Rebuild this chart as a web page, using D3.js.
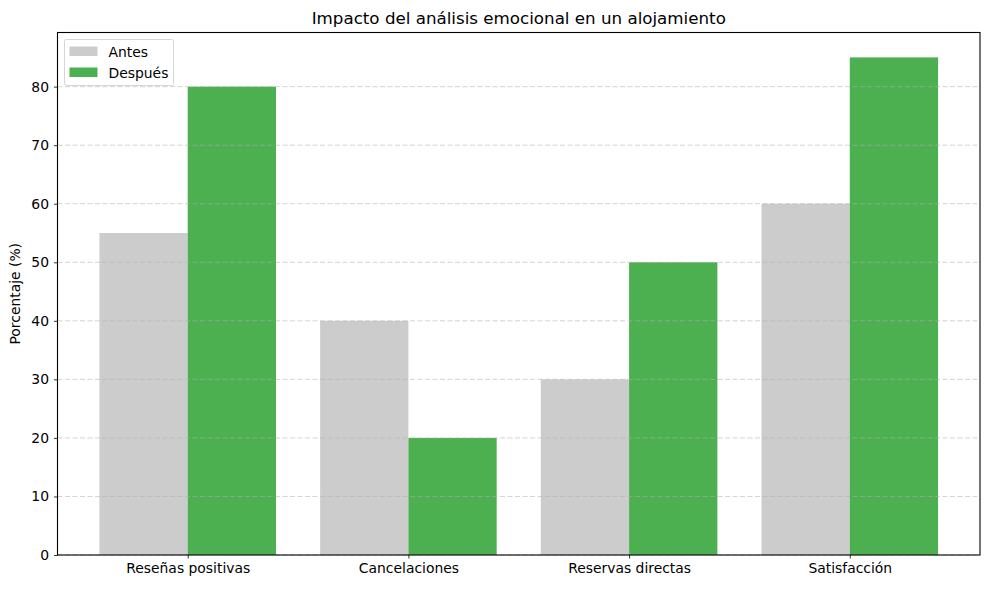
<!DOCTYPE html>
<html>
<head>
<meta charset="utf-8">
<script src="https://cdn.jsdelivr.net/npm/d3@7"></script>
<style>
  body { margin: 0; background: #fff; }
  svg { display: block; font-family: "DejaVu Sans", sans-serif; }
</style>
</head>
<body>
<div id="chart"></div>
<script>
// Datos del gráfico
const categories = ['Reseñas positivas', 'Cancelaciones', 'Reservas directas', 'Satisfacción'];
const antes = [55, 40, 30, 60];
const despues = [80, 20, 50, 85];
const yTicks = [0, 10, 20, 30, 40, 50, 60, 70, 80];

const W = 989, H = 589;
const m = { left: 57.5, right: 9, top: 32.5, bottom: 34 };
const fs = 13.9;

const svg = d3.select('#chart').append('svg')
  .attr('width', W).attr('height', H);

const x = d3.scaleLinear().domain([-0.59, 3.59]).range([m.left, W - m.right]);
const y = d3.scaleLinear().domain([0, 89.25]).range([H - m.bottom, m.top]);
const barW = 0.4;

const series = [
  { name: 'Antes', values: antes, color: '#cccccc', offset: -barW / 2 },
  { name: 'Después', values: despues, color: '#4caf50', offset: barW / 2 }
];

// Barras
series.forEach(s => {
  svg.append('g').selectAll('rect')
    .data(s.values)
    .enter().append('rect')
    .attr('x', (d, i) => x(i + s.offset - barW / 2))
    .attr('width', x(barW) - x(0))
    .attr('y', d => y(d))
    .attr('height', d => y(0) - y(d))
    .attr('fill', s.color);
});

// Rejilla (encima de las barras)
svg.append('g').selectAll('line')
  .data(yTicks)
  .enter().append('line')
  .attr('x1', m.left).attr('x2', W - m.right)
  .attr('y1', d => y(d)).attr('y2', d => y(d))
  .attr('stroke', '#b0b0b0')
  .attr('stroke-opacity', 0.7)
  .attr('stroke-width', 0.8)
  .attr('stroke-dasharray', '5,2.5');

// Ejes
const yAxis = svg.append('g')
  .attr('transform', `translate(${m.left},0)`)
  .call(d3.axisLeft(y).tickValues(yTicks).tickSize(3.5).tickPadding(5));
const xAxis = svg.append('g')
  .attr('transform', `translate(0,${H - m.bottom})`)
  .call(d3.axisBottom(x).tickValues(d3.range(categories.length))
    .tickFormat(i => categories[i]).tickSize(3.5).tickPadding(5));

[xAxis, yAxis].forEach(a => {
  a.select('.domain').remove();
  a.selectAll('text').attr('font-size', fs).attr('fill', '#000')
    .attr('font-family', '"DejaVu Sans", sans-serif');
  a.selectAll('line').attr('stroke', '#000').attr('stroke-width', 0.8);
});

// Marco
svg.append('rect')
  .attr('x', m.left).attr('y', m.top)
  .attr('width', W - m.right - m.left).attr('height', H - m.bottom - m.top)
  .attr('fill', 'none').attr('stroke', '#000').attr('stroke-width', 1.1);

// Título y etiqueta del eje y
svg.append('text')
  .attr('x', (m.left + W - m.right) / 2).attr('y', 24)
  .attr('text-anchor', 'middle').attr('font-size', 16.7)
  .text('Impacto del análisis emocional en un alojamiento');

svg.append('text')
  .attr('transform', `translate(20,${(m.top + H - m.bottom) / 2}) rotate(-90)`)
  .attr('text-anchor', 'middle').attr('font-size', fs)
  .text('Porcentaje (%)');

// Leyenda
const lg = svg.append('g').attr('transform', `translate(${m.left + 7},${m.top + 7})`);
lg.append('rect')
  .attr('width', 109).attr('height', 46).attr('rx', 2)
  .attr('fill', '#fff').attr('fill-opacity', 0.8)
  .attr('stroke', '#d6d6d6').attr('stroke-width', 1);
series.forEach((s, i) => {
  const row = lg.append('g').attr('transform', `translate(5,${7 + i * 21})`);
  row.append('rect').attr('width', 28).attr('height', 9.5).attr('y', 0).attr('fill', s.color);
  row.append('text').attr('x', 39).attr('y', 10).attr('font-size', fs).text(s.name);
});
</script>
</body>
</html>
